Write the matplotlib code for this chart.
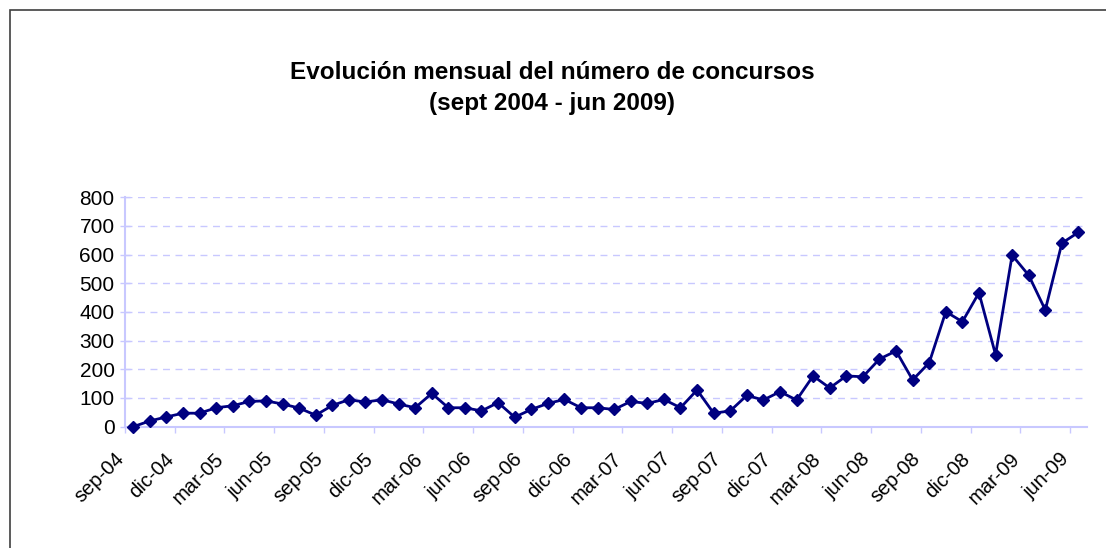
import matplotlib
matplotlib.use("Agg")
import matplotlib.pyplot as plt
from matplotlib.patches import Rectangle

# numero de concursos por mes, sep-04 .. jun-09
meses = ["sep-04", "oct-04", "nov-04", "dic-04", "ene-05", "feb-05", "mar-05", "abr-05",
         "may-05", "jun-05", "jul-05", "ago-05", "sep-05", "oct-05", "nov-05", "dic-05",
         "ene-06", "feb-06", "mar-06", "abr-06", "may-06", "jun-06", "jul-06", "ago-06",
         "sep-06", "oct-06", "nov-06", "dic-06", "ene-07", "feb-07", "mar-07", "abr-07",
         "may-07", "jun-07", "jul-07", "ago-07", "sep-07", "oct-07", "nov-07", "dic-07",
         "ene-08", "feb-08", "mar-08", "abr-08", "may-08", "jun-08", "jul-08", "ago-08",
         "sep-08", "oct-08", "nov-08", "dic-08", "ene-09", "feb-09", "mar-09", "abr-09",
         "may-09", "jun-09"]
concursos = [0, 20, 34, 47, 47, 66, 73, 88, 90, 79, 65, 40,
             74, 94, 86, 94, 79, 66, 116, 66, 66, 55, 84, 33,
             60, 81, 95, 66, 66, 60, 88, 81, 95, 66, 128, 47,
             55, 109, 93, 122, 93, 177, 135, 177, 174, 236, 264, 163,
             223, 401, 366, 467, 251, 598, 528, 407, 640, 678]
etiquetas = ["sep-04", "dic-04", "mar-05", "jun-05", "sep-05", "dic-05", "mar-06",
             "jun-06", "sep-06", "dic-06", "mar-07", "jun-07", "sep-07", "dic-07",
             "mar-08", "jun-08", "sep-08", "dic-08", "mar-09", "jun-09"]

plt.rcParams["font.family"] = ["Liberation Sans", "DejaVu Sans"]
plt.rcParams["lines.scale_dashes"] = False

lav = "#c8c8ff"
navy = "#000080"

fig = plt.figure(figsize=(11.06, 5.48), dpi=100)
ax = fig.add_axes([0.1130, 0.2214, 0.8696, 0.4186])

x = list(range(len(concursos)))
ax.plot(x, concursos, color=navy, lw=2, marker="D", ms=6, mew=1, mec=navy, mfc=navy,
        clip_on=False, zorder=3)

ax.set_xlim(-0.5, len(concursos) - 0.5)
ax.set_ylim(0, 800)
ax.set_yticks(range(0, 801, 100))
ax.set_xticks([meses.index(e) - 0.5 for e in etiquetas])
ax.set_xticklabels(etiquetas, rotation=45, ha="right", va="baseline", rotation_mode="anchor")

ax.grid(axis="y", color=lav, lw=1, linestyle=(0, (5, 4)))
ax.set_axisbelow(True)
for s in ["top", "right"]:
    ax.spines[s].set_visible(False)
for s in ["left", "bottom"]:
    ax.spines[s].set_color(lav)
    ax.spines[s].set_linewidth(1.5)
ax.tick_params(axis="x", colors=lav, length=4, width=1, labelcolor="black", labelsize=14.5, pad=20)
ax.tick_params(axis="y", colors=lav, direction="inout", length=7, width=1,
               labelcolor="black", labelsize=15, pad=4)

fig.text(0.4995, 1 - 79 / 548, "Evolución mensual del número de concursos",
         ha="center", va="baseline", fontsize=17.5, fontweight="bold")
fig.text(0.4995, 1 - 110 / 548, "(sept 2004 - jun 2009)",
         ha="center", va="baseline", fontsize=17.5, fontweight="bold")

# marco del grafico
fig.patches.append(Rectangle((9.5 / 1106, -0.1), 1.2, 1 - 9.5 / 548 + 0.1,
                             transform=fig.transFigure, fill=False,
                             edgecolor="#404040", lw=1.2))

fig.savefig("out.png", dpi=100)
